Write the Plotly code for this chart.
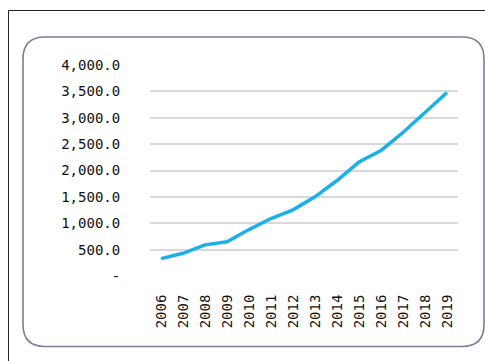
import plotly.graph_objects as go

years = ["2006", "2007", "2008", "2009", "2010", "2011", "2012",
         "2013", "2014", "2015", "2016", "2017", "2018", "2019"]
values = [330, 430, 590, 650, 880, 1090, 1255,
          1500, 1810, 2160, 2380, 2720, 3100, 3480]
y_ticks = [0, 500, 1000, 1500, 2000, 2500, 3000, 3500, 4000]
y_tick_text = ["-", "500.0", "1,000.0", "1,500.0", "2,000.0",
               "2,500.0", "3,000.0", "3,500.0", "4,000.0"]

W, H = 485, 361
L, R, T, B = 150, 27, 65, 85
pw, ph = W - L - R, H - T - B


def px(x):
    return (x - L) / pw


def py(y):
    return (H - B - y) / ph


def rounded_path(x0, y0, x1, y1, r):
    pts = [
        ("M", x0 + r, y0), ("L", x1 - r, y0), ("Q", x1, y0, x1, y0 + r),
        ("L", x1, y1 - r), ("Q", x1, y1, x1 - r, y1), ("L", x0 + r, y1),
        ("Q", x0, y1, x0, y1 - r), ("L", x0, y0 + r), ("Q", x0, y0, x0 + r, y0),
    ]
    out = []
    for p in pts:
        cmd, coords = p[0], p[1:]
        pairs = []
        for i in range(0, len(coords), 2):
            pairs.append(f"{px(coords[i]):.5f},{py(coords[i + 1]):.5f}")
        out.append(cmd + " ".join(pairs))
    return " ".join(out) + " Z"


font_family = "DejaVu Sans Mono"

fig = go.Figure()
fig.add_trace(go.Scatter(
    x=years, y=values, mode="lines",
    line=dict(color="#1cb0e8", width=3.5),
    hoverinfo="x+y",
))

fig.update_layout(
    width=W, height=H,
    margin=dict(l=L, r=R, t=T, b=B, pad=0),
    paper_bgcolor="white", plot_bgcolor="white",
    showlegend=False,
    xaxis=dict(
        type="category", range=[-0.5, 13.5],
        showgrid=False, zeroline=False, showline=False,
        tickangle=-90, ticks="outside", ticklen=12, tickcolor="rgba(0,0,0,0)",
        tickfont=dict(family=font_family, size=14, color="#111111"),
    ),
    yaxis=dict(
        range=[0, 4000], tickvals=y_ticks, ticktext=y_tick_text,
        showgrid=True, gridcolor="#d9d9d9", gridwidth=1.5,
        zeroline=False, showline=False,
        ticks="outside", ticklen=26, tickcolor="rgba(0,0,0,0)",
        tickfont=dict(family=font_family, size=14, color="#111111"),
    ),
    shapes=[
        dict(type="rect", xref="paper", yref="paper",
             x0=px(8.5), y0=py(10.5), x1=px(W + 10), y1=py(H + 10),
             line=dict(color="#222222", width=1), layer="below"),
        dict(type="path", xref="paper", yref="paper",
             path=rounded_path(23, 37, 484, 346.5, 22),
             line=dict(color="#85789c", width=1.6), layer="below"),
    ],
)

fig.write_html("out.html")
